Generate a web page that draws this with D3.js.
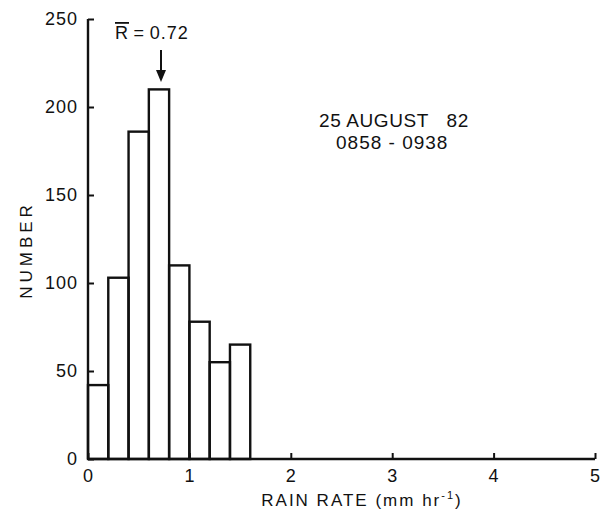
<!DOCTYPE html>
<html><head><meta charset="utf-8">
<script src="https://cdn.jsdelivr.net/npm/d3@7"></script>
<style>body{margin:0;background:#fff}svg{display:block}text{font-family:"Liberation Sans",Arial,sans-serif;fill:#111}</style>
</head><body><svg id="c" width="602" height="513"></svg>
<script>
const binEdges = [0,0.2,0.4,0.6,0.8,1.0,1.2,1.4,1.6];
const counts = [42,103,186,210,110,78,55,65];
const xTicks = [0,1,2,3,4,5];
const yTicks = [0,50,100,150,200,250];
const meanR = 0.72;

const svg = d3.select("#c");
const x = d3.scaleLinear().domain([0,5]).range([88,595]);
const y = d3.scaleLinear().domain([0,250]).range([459,19]);
const ink = "#111";

// bars
const bins = counts.map((c,i)=>({x0:binEdges[i],x1:binEdges[i+1],v:c}));
svg.append("g").selectAll("rect").data(bins).join("rect")
  .attr("x",d=>x(d.x0)).attr("width",d=>x(d.x1)-x(d.x0))
  .attr("y",d=>y(d.v)).attr("height",d=>y(0)-y(d.v))
  .attr("fill","none").attr("stroke",ink).attr("stroke-width",2.4);

// axes
const yAxis = d3.axisLeft(y).tickValues(yTicks).tickSize(-6).tickPadding(10).tickFormat(d3.format("d"));
const gy = svg.append("g").attr("transform",`translate(${x(0)},0)`).call(yAxis);
const xAxis = d3.axisBottom(x).tickValues(xTicks).tickSize(-6).tickFormat(d3.format("d"));
const gx = svg.append("g").attr("transform",`translate(0,${y(0)})`).call(xAxis);
[gx,gy].forEach(g=>{
  g.select(".domain").attr("stroke",ink).attr("stroke-width",2.4);
  g.selectAll(".tick line").attr("stroke",ink).attr("stroke-width",2);
  g.selectAll(".tick text").attr("font-size",18).attr("letter-spacing","1px").attr("font-family","Liberation Sans, Arial, sans-serif").attr("fill",ink);
});
gy.select(".domain").attr("d",`M0,${y(250)}V${y(0)}`);
gx.select(".domain").attr("d",`M${x(0)},0H${x(5)}`);
gx.selectAll(".tick text").attr("y",23).attr("dy",0);

// axis labels
svg.append("text").attr("x",362).attr("y",506).attr("text-anchor","middle")
  .attr("font-size",17).attr("letter-spacing","2px")
  .html('RAIN RATE (mm hr<tspan dy="-7" font-size="11">-1</tspan><tspan dy="7">)</tspan>');
svg.append("text").attr("transform","translate(32,250) rotate(-90)").attr("text-anchor","middle")
  .attr("font-size",17).attr("letter-spacing","4px").text("NUMBER");

// mean annotation
const mx = x(meanR);
const rt = svg.append("text").attr("x",115).attr("y",39).attr("font-size",18).attr("letter-spacing","1px");
rt.append("tspan").attr("text-decoration","overline").text("R");
rt.append("tspan").text("\u2009=\u20090.72");
svg.append("line").attr("x1",mx).attr("x2",mx).attr("y1",50).attr("y2",72).attr("stroke",ink).attr("stroke-width",2);
svg.append("path").attr("d",`M${mx-5},70L${mx+5},70L${mx},82Z`).attr("fill",ink);

// date annotation
svg.append("text").attr("x",319).attr("y",127).attr("font-size",19).attr("letter-spacing","0.6px").text("25 AUGUST\u00a0\u00a0 82");
svg.append("text").attr("x",336).attr("y",149).attr("font-size",19).attr("letter-spacing","1px").text("0858 - 0938");
</script></body></html>
